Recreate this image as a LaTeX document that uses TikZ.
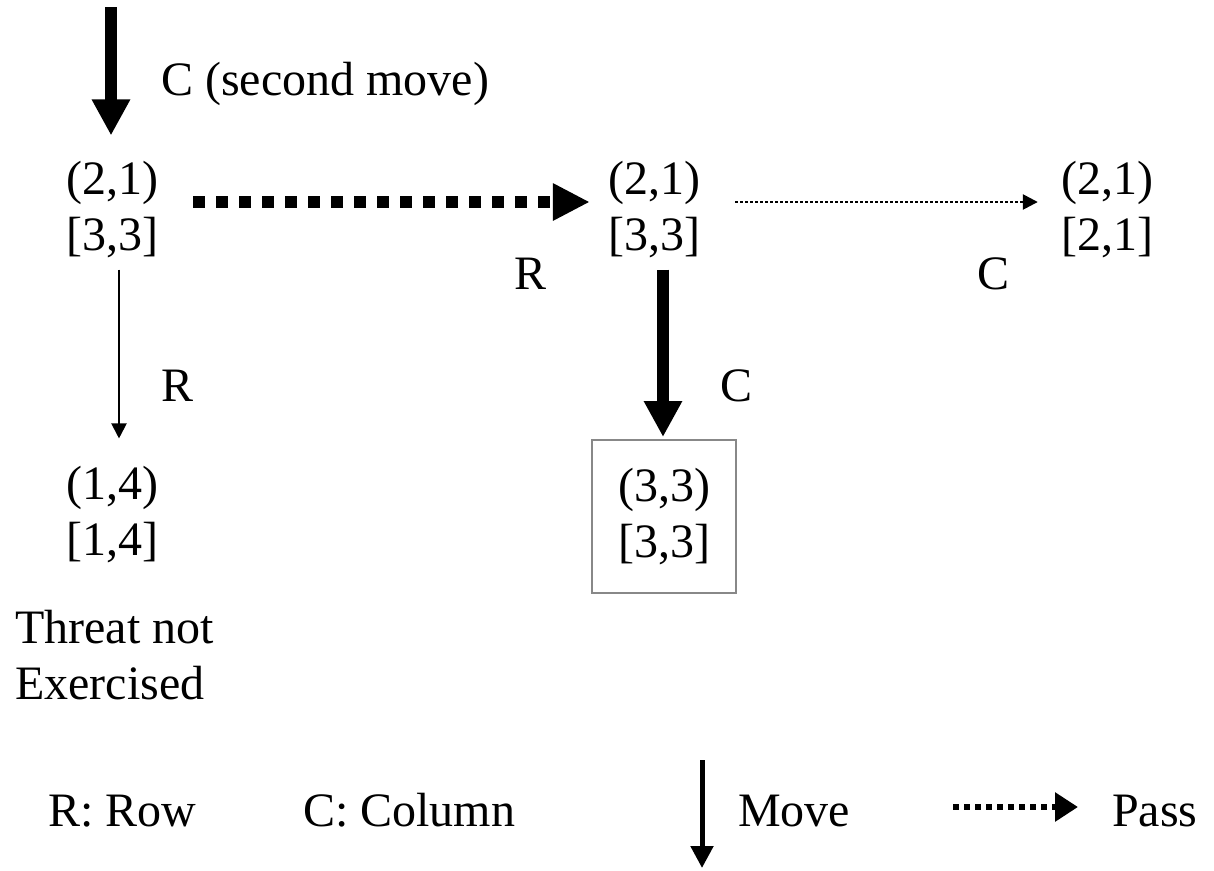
\documentclass[tikz,border=0pt]{standalone}
\usepackage{fontspec}
\setmainfont{Liberation Serif}
\usetikzlibrary{arrows.meta,calc}
\begin{document}
\begin{tikzpicture}[x=1pt,y=-1pt,
  lbl/.style={font=\fontsize{48}{56}\selectfont, inner sep=0pt},
  state/.style={lbl, align=center, minimum width=100pt},
  movebig/.style={line width=11.5pt, -{Triangle[length=36pt,width=36pt]}},
  passbig/.style={line width=12pt, dash pattern=on 12pt off 11pt, -{Triangle[length=37pt,width=35pt]}},
  passthin/.style={line width=2.5pt, dash pattern=on 3pt off 2pt, -{Triangle[length=15pt,width=15pt]}},
  movethin/.style={line width=2pt, -{Triangle[length=15pt,width=15pt]}},
  movelegend/.style={line width=5pt, -{Triangle[length=22pt,width=22pt]}},
  passlegend/.style={line width=6pt, dash pattern=on 6pt off 5pt, -{Triangle[length=23pt,width=28pt]}},
  goal/.style={draw={rgb,255:red,136;green,136;blue,136}, line width=2pt, minimum width=144pt, minimum height=153pt}
]
\useasboundingbox (0,0) rectangle (1214,870);

% states
\node[state] (n1) at (112,210) {(2,1)\\{}[3,3]};
\node[state] (n2) at (654,210) {(2,1)\\{}[3,3]};
\node[state] (n3) at (1107,210) {(2,1)\\{}[2,1]};
\node[state] (n4) at (112,515) {(1,4)\\{}[1,4]};
\node[state, goal] (n5) at (664,516.5) {(3,3)\\{}[3,3]};
\node[lbl, align=left, anchor=west] (threat) at (15,655) {Threat not\\Exercised};

% connectors
\coordinate (c0) at (111,7);
\draw[movebig] (c0) -- ($(n1.north -| c0)+(0,-26)$);
\draw[passbig] ($(n1.east)+(31,-8)$) -- ($(n2.west)+(-14,-8)$);
\draw[passthin] ($(n2.east)+(31,-8)$) -- ($(n3.west)+(-19,-8)$);
\draw[movethin] ($(n1.south)+(7,11)$) -- ($(n4.north)+(7,-28)$);
\draw[movebig] ($(n2.south)+(9,11)$) -- ($(n5.north)+(-1,-2)$);

% labels
\node[lbl, anchor=base west] (lc) at (161,95) {C (second move)};
\node[lbl, anchor=base] (lr1) at (530,289) {R};
\node[lbl, anchor=base] (lc1) at (993,289) {C};
\node[lbl, anchor=base] (lr2) at (178,401) {R};
\node[lbl, anchor=base] (lc2) at (736,401) {C};

% legend
\node[lbl, anchor=base west] (kr) at (48,826) {R: Row};
\node[lbl, anchor=base west] (kc) at (303,826) {C: Column};
\coordinate (m0) at (702,760);
\coordinate (m1) at (702,868);
\draw[movelegend] (m0) -- (m1);
\node[lbl, anchor=base west] (km) at (738,826) {Move};
\coordinate (p0) at (953,807);
\coordinate (p1) at (1078,807);
\draw[passlegend] (p0) -- (p1);
\node[lbl, anchor=base west] (kp) at (1112,826) {Pass};
\end{tikzpicture}
\end{document}
